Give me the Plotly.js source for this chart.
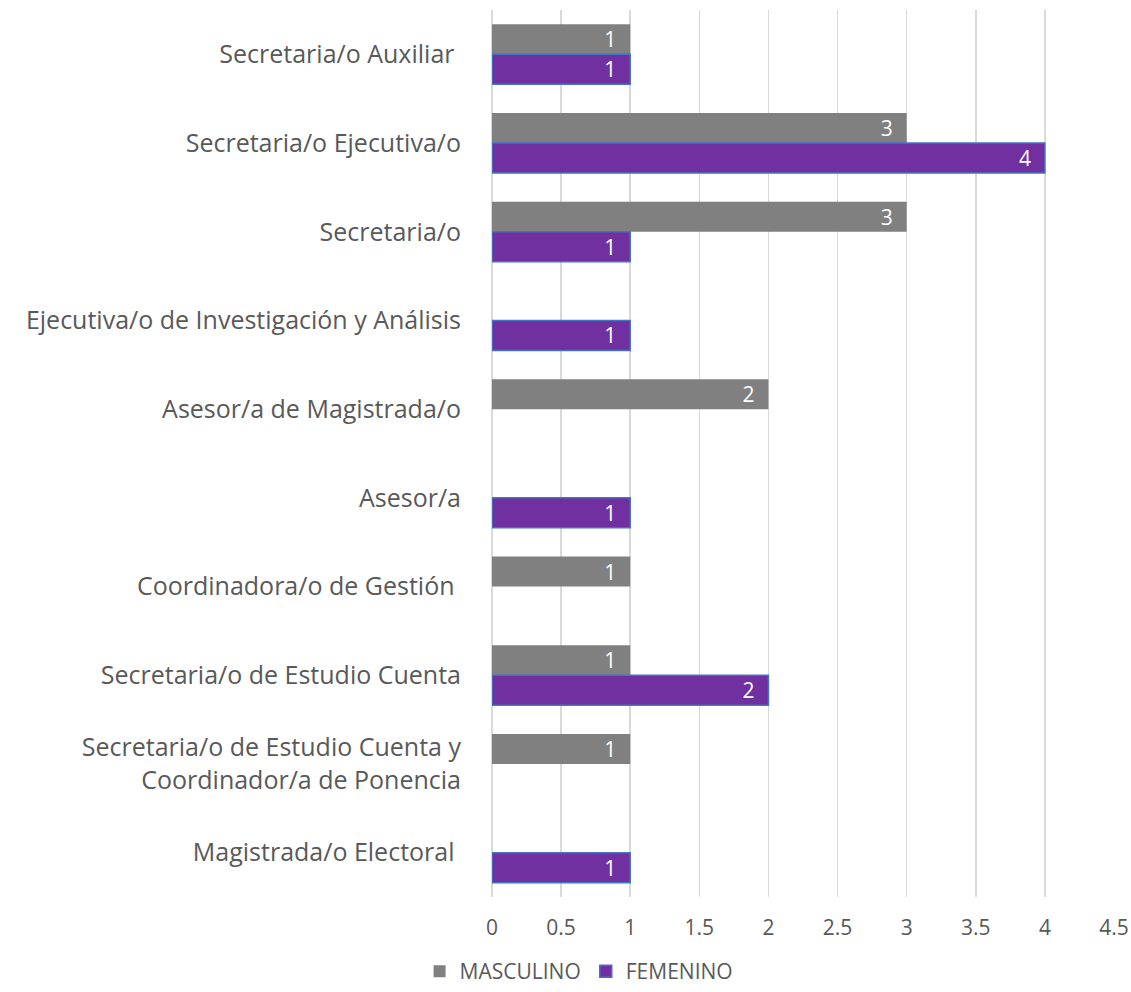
<!DOCTYPE html>
<html>
<head>
<meta charset="utf-8">
<script src="https://cdn.plot.ly/plotly-3.0.1.min.js"></script>
<style>html,body{margin:0;padding:0;background:#fff;}#chart{width:1131px;height:992px;}</style>
</head>
<body>
<div id="chart"></div>
<script>
const categories = [
  "Secretaria/o Auxiliar\u00A0",
  "Secretaria/o Ejecutiva/o",
  "Secretaria/o",
  "Ejecutiva/o de Investigación y Análisis",
  "Asesor/a de Magistrada/o",
  "Asesor/a",
  "Coordinadora/o de Gestión\u00A0",
  "Secretaria/o de Estudio Cuenta",
  "Secretaria/o de Estudio Cuenta y<br>Coordinador/a de Ponencia",
  "Magistrada/o Electoral\u00A0"
];
const masculino = [1, 3, 3, null, 2, null, 1, 1, 1, null];
const femenino  = [1, 4, 1, 1, null, 1, null, 2, null, 1];
const seriesNames = ["MASCULINO", "FEMENINO"];
const xTicks = [0, 0.5, 1, 1.5, 2, 2.5, 3, 3.5, 4, 4.5];

const FONT = "'Open Sans', Lato, sans-serif";
const TXT = "#595959";
const LABEL_TEMPLATE = "%{x}\u00A0\u00A0";

const traces = [
  {
    type: "bar", orientation: "h", name: seriesNames[0],
    y: categories, x: masculino,
    marker: {color: "#808080", line: {width: 0}},
    texttemplate: LABEL_TEMPLATE, textposition: "inside", insidetextanchor: "end",
    textangle: 0,
    textfont: {color: "#ffffff", size: 21, family: FONT},
    constraintext: "none", hoverinfo: "x+y"
  },
  {
    type: "bar", orientation: "h", name: seriesNames[1],
    y: categories, x: femenino,
    marker: {color: "#7030A0", line: {color: "#4472C4", width: 1.5}},
    texttemplate: LABEL_TEMPLATE, textposition: "inside", insidetextanchor: "end",
    textangle: 0,
    textfont: {color: "#ffffff", size: 21, family: FONT},
    constraintext: "none", hoverinfo: "x+y"
  }
];

const layout = {
  width: 1131, height: 992,
  margin: {l: 492, r: 17, t: 10, b: 95, pad: 0, autoexpand: false},
  paper_bgcolor: "#ffffff", plot_bgcolor: "#ffffff",
  font: {family: FONT, color: TXT},
  barmode: "group", bargap: 0.323, bargroupgap: 0,
  showlegend: true,
  legend: {
    orientation: "h", xref: "container", yref: "container",
    x: 0.512, xanchor: "center", y: 0.0, yanchor: "bottom",
    font: {size: 21, color: TXT, family: FONT}, traceorder: "normal",
    itemwidth: 30
  },
  xaxis: {
    range: [0, 4.5], tickvals: xTicks, ticktext: xTicks.map(String),
    showgrid: true, gridcolor: "#d9d9d9", gridwidth: 1.5,
    zeroline: true, zerolinecolor: "#d9d9d9", zerolinewidth: 1.5,
    showline: false, ticks: "",
    ticklabelstandoff: 16,
    tickfont: {size: 21, color: TXT, family: FONT}
  },
  yaxis: {
    type: "category", categoryorder: "array", categoryarray: categories,
    autorange: "reversed",
    showgrid: false, zeroline: false, showline: false, ticks: "",
    ticklabelstandoff: 30,
    tickfont: {size: 25, color: TXT, family: FONT}
  }
};

Plotly.newPlot("chart", traces, layout, {displayModeBar: false, staticPlot: true});
</script>
</body>
</html>
